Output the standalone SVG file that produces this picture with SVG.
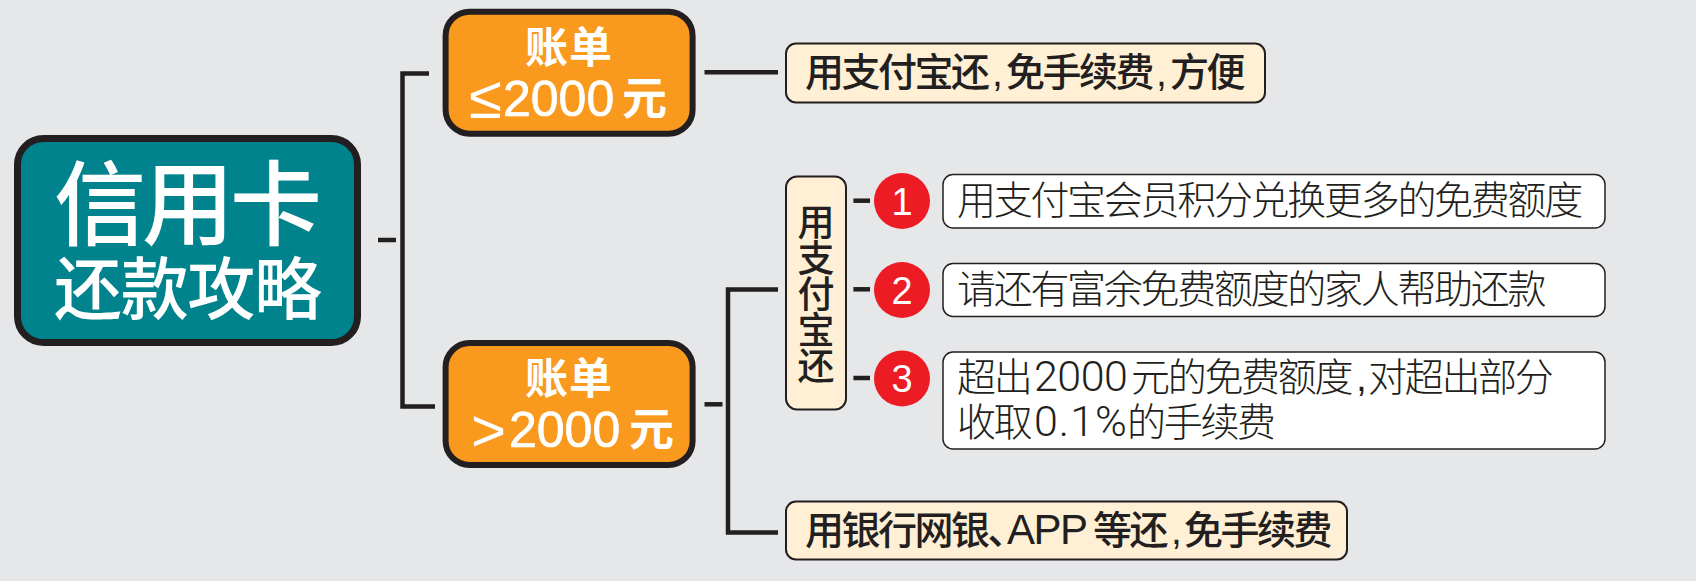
<svg xmlns="http://www.w3.org/2000/svg" width="1696" height="581" viewBox="0 0 1696 581">
<style>
text{font-family:"Liberation Sans","Noto Sans CJK SC",sans-serif;fill:#231f20}
.w{fill:#fff;font-weight:500}
.b{fill:#fff;font-weight:700;font-size:43px}
.d{fill:#fff;font-size:50px;stroke:#fff;stroke-width:.7}
.s{fill:#fff;font-size:60px}
.t{font-size:39px;font-weight:500;letter-spacing:-2.500px}
.a{font-size:42px;letter-spacing:-1.500px;font-weight:400}
.v{font-size:37px;font-weight:500}
.l{font-size:39px;font-weight:300;letter-spacing:-2.300px}
.ld{font-family:Roboto,"Noto Sans CJK SC",sans-serif;font-size:43px;font-weight:300;letter-spacing:-.5px}
.n{fill:#fff;font-size:38px;text-anchor:middle}
.cream{fill:#fff0d5;stroke:#231f20;stroke-width:2}
.white{fill:#fff;stroke:#231f20;stroke-width:1.5}
.big{stroke:#231f20;stroke-width:6}
.c{fill:none;stroke:#231f20;stroke-width:4.500}
.red{fill:#ed1c24}
</style>
<rect width="1696" height="581" fill="#e6e7e9"/>
<g id="connectors" class="c">
<path d="M378 240H396"/>
<path d="M429 73.500H402.500V406.500H435"/>
<path d="M704.500 72.300H778"/>
<path d="M704.500 404.300H722.500"/>
<path d="M778 289.500H728V532.500H778"/>
<path d="M853.400 200.700H870"/>
<path d="M853.400 289.300H870"/>
<path d="M853.400 378H870"/>
</g>
<g id="root">
<rect x="17.500" y="138.500" width="340" height="204" rx="26" fill="#00838c" stroke="#231f20" stroke-width="7"/>
<text class="w" x="54" y="238" font-size="92" textLength="268">信用卡</text>
<text class="w" x="54" y="314" font-size="68" textLength="268">还款攻略</text>
</g>
<g id="bill-low">
<rect class="big" x="445.600" y="11.700" width="247" height="122" rx="24" fill="#f9991d"/>
<text class="b" x="525" y="62.500" textLength="87">账单</text>
<text class="s" x="469" y="118">≤</text>
<text class="d" x="503" y="116">2000</text>
<text class="b" x="622" y="115" style="font-size:45px">元</text>
</g>
<g id="bill-high">
<rect class="big" x="445.600" y="343" width="247" height="122" rx="24" fill="#f9991d"/>
<text class="b" x="525" y="394" textLength="87">账单</text>
<text class="s" x="471" y="451">&gt;</text>
<text class="d" x="509" y="447">2000</text>
<text class="b" x="629" y="446" style="font-size:45px">元</text>
</g>
<g id="alipay-free">
<rect class="cream" x="786" y="43.500" width="479" height="59" rx="10"/>
<text class="t" y="86"><tspan x="805">用支付宝还</tspan><tspan x="992">,</tspan><tspan x="1006">免手续费</tspan><tspan x="1156">,</tspan><tspan x="1170">方便</tspan></text>
</g>
<g id="alipay">
<rect class="cream" x="786" y="176.500" width="60" height="233" rx="11"/>
<text class="v" x="797.500 797.500 797.500 797.500 797.500" y="236 272 308 344 380">用支付宝还</text>
</g>
<g id="bank">
<rect class="cream" x="786" y="501.500" width="561" height="58" rx="10"/>
<text class="t" y="544"><tspan x="805">用银行网银、</tspan><tspan class="a" x="1007">APP</tspan><tspan x="1093">等还</tspan><tspan x="1171">,</tspan><tspan x="1184">免手续费</tspan></text>
</g>
<g id="n1"><circle class="red" cx="902" cy="201" r="28"/><text class="n" x="902" y="214.500">1</text></g>
<g id="n2"><circle class="red" cx="902" cy="290" r="28"/><text class="n" x="902" y="303.500">2</text></g>
<g id="n3"><circle class="red" cx="902" cy="378.500" r="28"/><text class="n" x="902" y="392">3</text></g>
<g id="tip1">
<rect class="white" x="943" y="174.500" width="662" height="53.500" rx="10"/>
<text class="l" x="957" y="214">用支付宝会员积分兑换更多的免费额度</text>
</g>
<g id="tip2">
<rect class="white" x="943" y="263.500" width="662" height="53" rx="10"/>
<text class="l" x="957" y="303">请还有富余免费额度的家人帮助还款</text>
</g>
<g id="tip3">
<rect class="white" x="943" y="352" width="662" height="97" rx="10"/>
<text class="l" y="391"><tspan x="957">超出</tspan><tspan class="ld" x="1034">2000</tspan><tspan x="1131">元的免费额度</tspan><tspan x="1356">,</tspan><tspan x="1368">对超出部分</tspan></text>
<text class="l" y="436"><tspan x="957">收取</tspan><tspan class="ld" x="1034" style="letter-spacing:1px">0.1%</tspan><tspan x="1127">的手续费</tspan></text>
</g>
</svg>
